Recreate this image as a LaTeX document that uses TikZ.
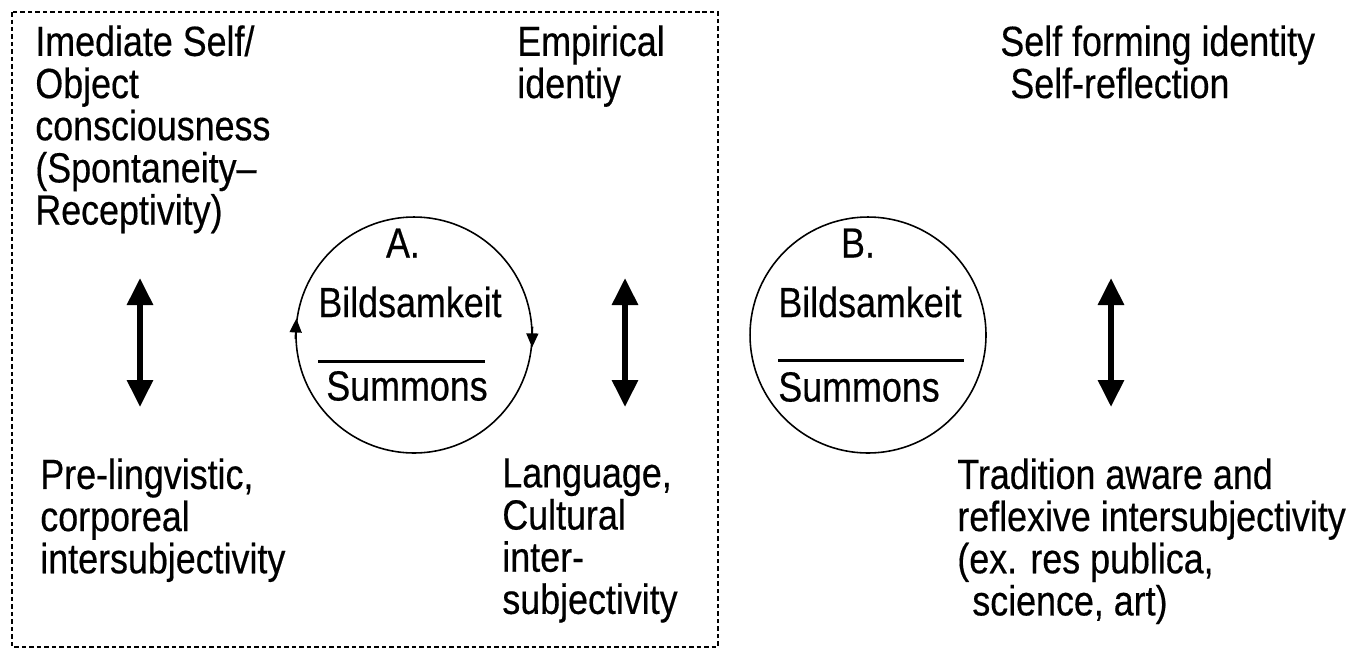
\documentclass[tikz,border=0pt]{standalone}
\usepackage{fontspec}
\setmainfont{Liberation Sans}[FakeStretch=0.85, FakeBold=0.4]
\usetikzlibrary{arrows.meta, positioning}

\begin{document}
\begin{tikzpicture}[
  x=0.02cm, y=-0.02cm,
  font=\fontsize{24}{24}\selectfont,
  txt/.style={anchor=north west, inner sep=0pt, align=left},
  lbl/.style={inner sep=0pt},
  ring/.style={circle, draw, line width=0.9pt, minimum size=4.72cm, inner sep=0pt},
  dblarr/.style={{Triangle[length=0.54cm, width=0.5cm]}-{Triangle[length=0.54cm, width=0.5cm]}, line width=0.12cm},
  flow/.style={-{Triangle[length=0.28cm, width=0.24cm]}, line width=0.9pt},
  bar/.style={line width=0.06cm}
]
  \useasboundingbox (0,0) rectangle (1364,656);

  % dashed frame round the first stage
  \draw[dash pattern=on 0.09cm off 0.06cm, line width=0.9pt] (12,12) rectangle (718,647);

  % top texts
  \node[txt] (imm) at (35,25) {Imediate Self/\\Object\\consciousness\\(Spontaneity–\\Receptivity)};
  \node[txt] (emp) at (517,25) {Empirical\\identiy};
  \node[txt] (sfi) at (1000,25) {Self forming identity\\\hspace*{0.2cm}Self-reflection};

  % bottom texts
  \node[txt] (pre) at (40,458) {Pre-lingvistic,\\corporeal\\intersubjectivity};
  \node[txt] (lang) at (502,458) {Language,\\Cultural\\inter-\\subjectivity};
  \node[txt] (trad) at (957,458) {Tradition aware and\\reflexive intersubjectivity\\(ex. res publica,\\\hspace*{0.3cm}science, art)};

  % circle A
  \node[ring] (cA) at (414,335) {};
  \node[lbl] (labA) at (403,243) {A.};
  \node[lbl] (bildA) at (410,302) {Bildsamkeit};
  \draw[bar] (318,361) -- (485,361);
  \node[lbl] (sumA) at (407,386) {Summons};
  \draw[flow] (cA.182) -- (cA.172);
  \draw[flow] (cA.4) -- (cA.-6);

  % circle B
  \node[ring] (cB) at (868,335) {};
  \node[lbl] (labB) at (858,243) {B.};
  \node[lbl] (bildB) at (870,302) {Bildsamkeit};
  \draw[bar] (778,360) -- (964,360);
  \node[lbl] (sumB) at (859,387) {Summons};

  % double arrows
  \coordinate (u1) at (140,278);
  \coordinate (d1) at (140,407);
  \coordinate (u2) at (625,278);
  \coordinate (d2) at (625,407);
  \coordinate (u3) at (1111,278);
  \coordinate (d3) at (1111,407);
  \draw[dblarr] (u1) -- (d1);
  \draw[dblarr] (u2) -- (d2);
  \draw[dblarr] (u3) -- (d3);
\end{tikzpicture}
\end{document}
